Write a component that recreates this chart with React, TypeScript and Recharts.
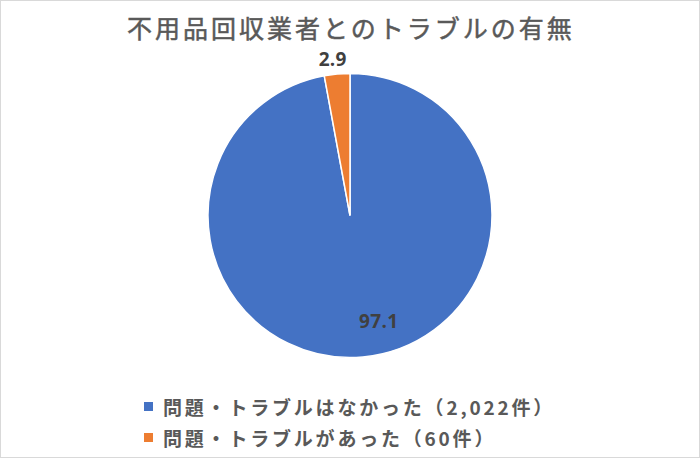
import React from "react";
import { PieChart, Pie, Cell, Legend } from "recharts";

const categories = ["問題・トラブルはなかった（2,022件）", "問題・トラブルがあった（60件）"];
const values = [97.1, 2.9];
const colors = ["#4472C4", "#ED7D31"];
const title = "不用品回収業者とのトラブルの有無";

const data = categories.map((name, i) => ({ name, value: values[i] }));

const FONT = "'Noto Sans CJK JP', 'Noto Sans', sans-serif";
const RAD = Math.PI / 180;

const renderLabel = (props: any) => {
  const { cx, cy, midAngle, outerRadius, index, value } = props;
  let x: number;
  let y: number;
  if (index === 0) {
    const a = midAngle + 10;
    const r = outerRadius * 0.77;
    x = cx + r * Math.cos(-a * RAD);
    y = cy + r * Math.sin(-a * RAD);
  } else {
    const r = outerRadius + 15;
    x = cx + r * Math.cos(-midAngle * RAD) - 3;
    y = cy + r * Math.sin(-midAngle * RAD);
  }
  return (
    <text
      x={x}
      y={y}
      textAnchor="middle"
      dominantBaseline="central"
      fill="#404040"
      fontSize={19}
      fontWeight="bold"
      fontFamily="'Open Sans', sans-serif"
      letterSpacing={0.3}
    >
      {value.toFixed(1)}
    </text>
  );
};

const renderLegend = (props: any) => {
  const payload = [...(props.payload || [])].sort(
    (a: any, b: any) => categories.indexOf(a.value) - categories.indexOf(b.value)
  );
  return (
    <div>
      {payload.map((entry: any, i: number) => (
        <div
          key={i}
          style={{
            display: "flex",
            alignItems: "center",
            height: 31,
            fontFamily: FONT,
            fontSize: 19,
            fontWeight: "bold",
            color: "#595959",
            letterSpacing: 2.8,
          }}
        >
          <span
            style={{
              display: "inline-block",
              width: 9,
              height: 9,
              background: entry.color,
              marginRight: 10,
            }}
          />
          <span>{entry.value}</span>
        </div>
      ))}
    </div>
  );
};

export default function App() {
  return (
    <div
      style={{
        position: "absolute",
        left: 0,
        top: 0,
        width: 700,
        height: 458,
        border: "1px solid #d9d9d9",
        boxSizing: "border-box",
        background: "#fff",
      }}
    >
      <div
        style={{
          position: "absolute",
          left: 0,
          top: 11,
          width: 700,
          textAlign: "center",
          fontFamily: FONT,
          fontSize: 25,
          color: "#595959",
          letterSpacing: 3,
          lineHeight: "30px",
          WebkitTextStroke: "0.5px #595959",
        }}
      >
        {title}
      </div>
      <div style={{ position: "absolute", left: -1, top: -1 }}>
        <PieChart width={700} height={458} margin={{ top: 0, right: 0, bottom: 0, left: 0 }}>
          <Pie
            data={data}
            dataKey="value"
            nameKey="name"
            cx={350}
            cy={215.5}
            outerRadius={142}
            startAngle={90}
            endAngle={-270}
            stroke="#ffffff"
            strokeWidth={1.5}
            label={renderLabel}
            labelLine={false}
            isAnimationActive={false}
          >
            {data.map((d, i) => (
              <Cell key={d.name} fill={colors[i]} />
            ))}
          </Pie>
          <Legend
            content={renderLegend}
            wrapperStyle={{ position: "absolute", left: 144, top: 391, width: 540 }}
          />
        </PieChart>
      </div>
    </div>
  );
}
